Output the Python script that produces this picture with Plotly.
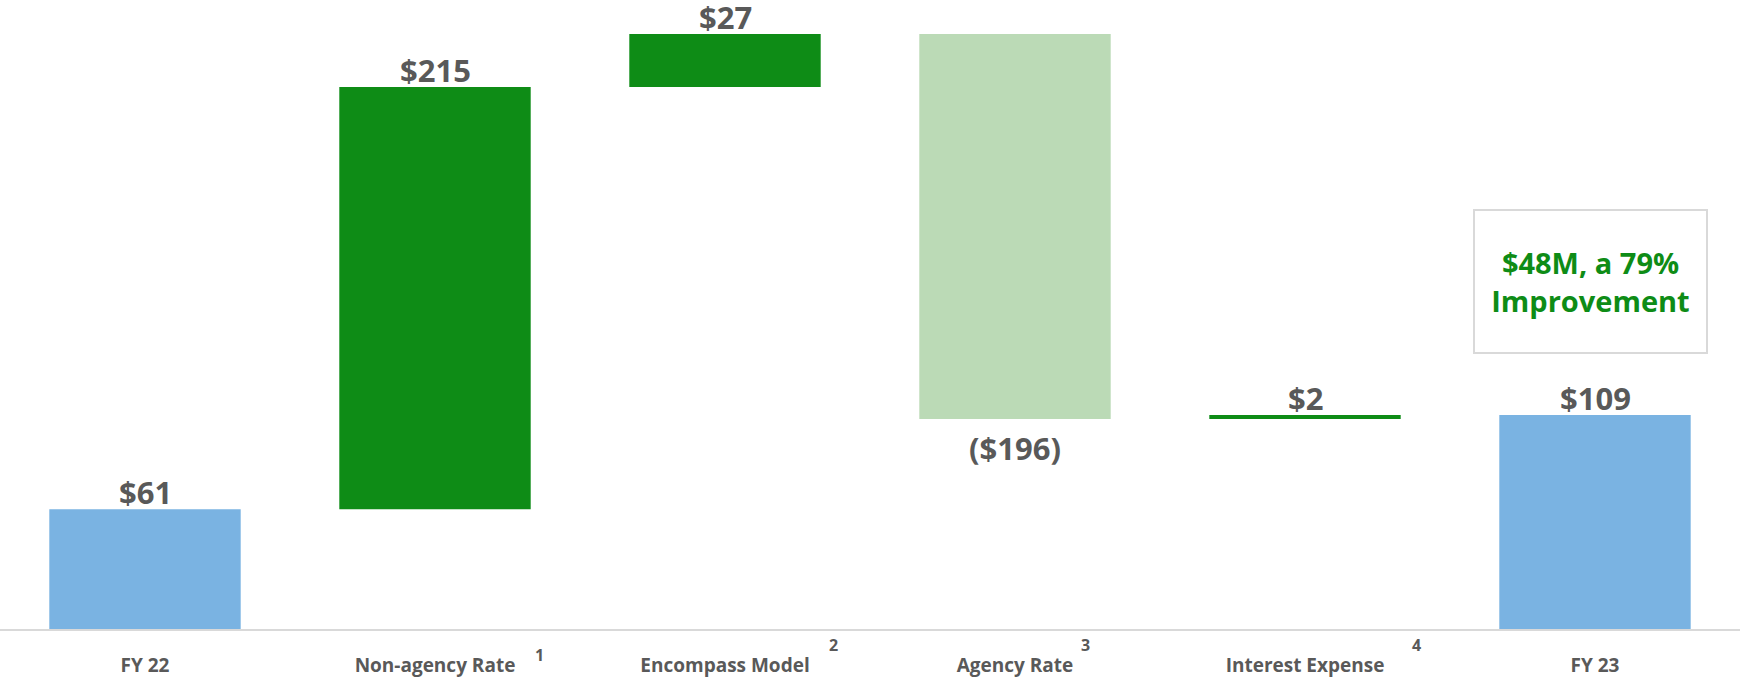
import plotly.graph_objects as go

categories = ["FY 22", "Non-agency Rate", "Encompass Model", "Agency Rate", "Interest Expense", "FY 23"]
footnotes = ["", "1", "2", "3", "4", ""]
measures = ["absolute", "relative", "relative", "relative", "relative", "total"]
values = [61, 215, 27, -196, 2, 0]
value_labels = ["$61", "$215", "$27", "($196)", "$2", "$109"]
callout_text = "$48M, a 79%<br>Improvement"
callout_y = 177

GREEN = "#0E8C16"
LIGHT_GREEN = "#BBDAB6"
BLUE = "#7AB3E2"
GRAY = "#595959"

fig = go.Figure(go.Waterfall(
    x=categories,
    y=values,
    measure=measures,
    textposition="none",
    increasing=dict(marker=dict(color=GREEN)),
    decreasing=dict(marker=dict(color=LIGHT_GREEN)),
    totals=dict(marker=dict(color=BLUE)),
    connector=dict(visible=False),
    width=0.66,
    hoverinfo="skip",
))

# value labels at bar ends (computed from running total)
running = 0
for cat, m, v, lab in zip(categories, measures, values, value_labels):
    if m == "absolute":
        running = v
        top, below = running, False
    elif m == "total":
        top, below = running, False
    else:
        running += v
        top, below = running, v < 0
    fig.add_annotation(
        x=cat, y=top, xref="x", yref="y",
        text=f"<b>{lab}</b>", showarrow=False,
        font=dict(family="Open Sans", size=31, color=GRAY),
        yanchor="top" if below else "bottom",
        yshift=-7 if below else -5,
        borderpad=0,
    )

# footnote markers next to category labels
sup_offsets = {"1": (104, -13), "2": (108, -3), "3": (70, -3), "4": (111, -3)}
for cat, fn in zip(categories, footnotes):
    if fn:
        dx, dy = sup_offsets[fn]
        fig.add_annotation(
            x=cat, y=0, xref="x", yref="paper",
            text=f"<b>{fn}</b>", showarrow=False,
            font=dict(family="Open Sans", size=16, color=GRAY),
            xshift=dx, yshift=dy, yanchor="top",
        )

fig.add_annotation(
    x=categories[5], y=callout_y, xref="x", yref="y",
    text=f"<b>{callout_text}</b>",
    showarrow=False,
    font=dict(family="Open Sans", size=29, color=GREEN),
    bordercolor="#D9D9D9", borderwidth=2,
    width=229, height=139,
    bgcolor="white",
    xshift=-5,
)

fig.update_layout(
    width=1740, height=678,
    margin=dict(l=0, r=0, t=0, b=49),
    plot_bgcolor="white", paper_bgcolor="white",
    showlegend=False,
    xaxis=dict(
        tickmode="array", tickvals=categories,
        ticktext=[f"<b>{c}</b>" for c in categories],
        tickfont=dict(family="Open Sans", size=19, color=GRAY),
        showline=True, linecolor="#D9D9D9", linewidth=2,
        ticks="", ticklabelstandoff=18, automargin=False,
        range=[-0.5, 5.5],
    ),
    yaxis=dict(range=[0, 320.3], visible=False, automargin=False),
)

fig.write_html("out.html", config={"displayModeBar": False},
               post_script="document.body.style.margin='0';")
